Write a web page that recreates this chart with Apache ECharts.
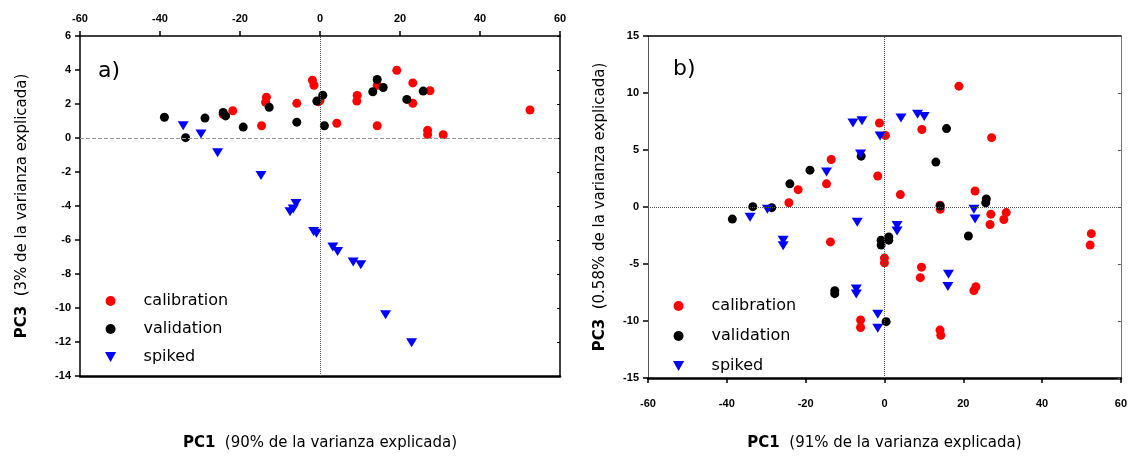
<!DOCTYPE html>
<html><head><meta charset="utf-8">
<script src="https://cdn.jsdelivr.net/npm/echarts@6/dist/echarts.min.js"></script>
<style>html,body{margin:0;background:#fff}#c{width:1130px;height:456px}</style>
</head><body><div id="c"></div>
<script>
// ---- data (PC1, PC3) ----
const seriesNames = ['calibration', 'validation', 'spiked'];
const calibrationA = [[-24.2,1.4],[-21.8,1.6],[-14.6,0.72],[-13.6,2.1],[-13.4,2.4],[-5.8,2.04],[-1.9,3.4],[-1.5,3.1],[-0.4,2.13],[0,2.2],[4.2,0.87],[9.3,2.5],[9.2,2.17],[14.3,0.72],[14.3,3.1],[19.2,3.98],[23.2,3.24],[23.2,2.04],[27.5,2.78],[26.9,0.45],[26.9,0.2],[30.8,0.19],[52.5,1.65]];
const validationA = [[-38.9,1.22],[-33.6,0.02],[-28.75,1.17],[-24.2,1.5],[-23.6,1.3],[-19.2,0.64],[-12.7,1.81],[-5.8,0.93],[-0.8,2.17],[0.7,2.52],[1.1,0.72],[13.2,2.72],[14.3,3.44],[15.8,2.97],[21.7,2.27],[25.8,2.76]];
const spikedA = [[-34.2,0.72],[-29.75,0.23],[-25.6,-0.87],[-14.75,-2.2],[-7.5,-4.34],[-6.7,-4.18],[-6.0,-3.85],[-1.6,-5.5],[-0.9,-5.6],[3.2,-6.41],[4.4,-6.67],[8.3,-7.29],[10.2,-7.45],[16.4,-10.4],[22.9,-12.05]];
const calibrationB = [[-24.25,0.37],[-21.9,1.52],[-14.7,2.03],[-13.5,4.17],[-1.7,2.72],[-1.26,7.37],[0.25,6.28],[-13.7,-3.06],[4.04,1.09],[9.5,6.8],[14.1,0.15],[14.15,-0.2],[18.9,10.6],[23,1.4],[27,-0.63],[26.8,-1.54],[27.2,6.08],[30.9,-0.49],[30.3,-1.1],[52.5,-2.34],[52.2,-3.34],[0,-4.48],[0,-4.9],[-6.06,-9.91],[-6.06,-10.57],[9.4,-5.28],[9.1,-6.2],[23.2,-7.0],[22.7,-7.34],[14.1,-10.8],[14.3,-11.25]];
const validationB = [[-38.6,-1.06],[-33.4,0.03],[-28.6,-0.06],[-24,2.03],[-18.9,3.23],[-5.9,4.46],[-0.84,-2.91],[-0.84,-3.34],[1.1,-2.63],[1.1,-2.91],[14.15,0.09],[13.05,3.94],[15.75,6.88],[25.85,0.71],[25.7,0.37],[21.3,-2.54],[0.42,-10.06],[-12.6,-7.34],[-12.6,-7.6]];
const spikedB = [[-34.1,-0.91],[-29.7,-0.2],[-25.7,-2.91],[-25.7,-3.4],[-14.7,3.08],[-8.0,7.37],[-5.7,7.57],[-6.06,4.65],[-6.9,-1.34],[-1.1,6.23],[4.2,7.8],[8.4,8.14],[10.1,7.94],[3.2,-1.63],[3.2,-2.11],[22.7,-0.2],[23,-1.06],[-7.15,-7.2],[-7.15,-7.63],[-1.7,-9.4],[-1.7,-10.63],[16.25,-5.9],[16.1,-6.97]];
const axisTitleX_A = 'PC1';
const axisTitleX_A2 = '  (90% de la varianza explicada)';
const axisTitleY_A = 'PC3';
const axisTitleY_A2 = '  (3% de la varianza explicada)';
const axisTitleX_B2 = '  (91% de la varianza explicada)';
const axisTitleY_B2 = '  (0.58% de la varianza explicada)';

const FONT = 'DejaVu Sans';
const tri = 'path://M0,0L10,0L5,9Z';
const colors = {calibration: '#ff0000', validation: '#000000', spiked: '#0000ff'};

function tickLabel() { return {show: true, fontFamily: 'Liberation Sans', fontWeight: 'bold', fontSize: 11, color: '#000'}; }
function line(w, c) { return {show: true, onZero: false, lineStyle: {color: c || '#000', width: w}}; }
const nameStyle = {fontFamily: FONT, fontSize: 15, color: '#000', rich: {b: {fontFamily: FONT, fontSize: 15, fontWeight: 'bold', color: '#000'}}};

function scatter(name, data, xi, yi, extra) {
  const s = {
    name, type: 'scatter', xAxisIndex: xi, yAxisIndex: yi, data,
    symbol: name === 'spiked' ? tri : 'circle',
    symbolSize: name === 'spiked' ? [11, 9] : 9,
    itemStyle: {color: colors[name], opacity: 1}, z: 3
  };
  return Object.assign(s, extra || {});
}
function zeroLines(hColor, hType, vColor) {
  return {
    silent: true, symbol: 'none', label: {show: false}, animation: false,
    data: [
      {yAxis: 0, lineStyle: {color: hColor, type: hType, width: 1}},
      {xAxis: 0, lineStyle: {color: vColor, type: 'dotted', width: 1}}
    ]
  };
}

const chart = echarts.init(document.getElementById('c'));
chart.setOption({
  animation: false,
  grid: [
    {left: 80, top: 36, width: 480, height: 342},
    {left: 648, top: 36, width: 475, height: 350}
  ],
  xAxis: [
    {gridIndex: 0, type: 'value', position: 'top', min: -60, max: 60, interval: 20,
     axisLine: line(1.5), axisTick: {show: true, length: 5, lineStyle: {color: '#000', width: 1.5}},
     axisLabel: Object.assign(tickLabel(), {margin: 12}), splitLine: {show: false}},
    {gridIndex: 0, type: 'value', position: 'bottom', min: -60, max: 60, interval: 20,
     axisLine: line(2.5), axisTick: {show: false}, axisLabel: {show: false}, splitLine: {show: false},
     name: '{b|' + axisTitleX_A + '}' + axisTitleX_A2, nameLocation: 'middle', nameGap: 60, nameTextStyle: nameStyle},
    {gridIndex: 1, type: 'value', position: 'bottom', min: -60, max: 60, interval: 20,
     axisLine: line(2.5), axisTick: {show: true, length: 5, lineStyle: {color: '#000', width: 1.5}},
     axisLabel: Object.assign(tickLabel(), {margin: 20}), splitLine: {show: false},
     name: '{b|PC1}' + axisTitleX_B2, nameLocation: 'middle', nameGap: 58, nameTextStyle: nameStyle},
    {gridIndex: 1, type: 'value', position: 'top', min: -60, max: 60, interval: 20,
     axisLine: line(1.5), axisTick: {show: false}, axisLabel: {show: false}, splitLine: {show: false}}
  ],
  yAxis: [
    {gridIndex: 0, type: 'value', position: 'left', min: -14, max: 6, interval: 2,
     axisLine: line(1.5), axisTick: {show: true, length: 5, lineStyle: {color: '#000', width: 1.5}},
     axisLabel: Object.assign(tickLabel(), {margin: 9}), splitLine: {show: false},
     name: '{b|' + axisTitleY_A + '}' + axisTitleY_A2, nameLocation: 'middle', nameGap: 50, nameTextStyle: nameStyle},
    {gridIndex: 0, type: 'value', position: 'right', min: -14, max: 6, interval: 2,
     axisLine: line(1.5), axisTick: {show: true, inside: true, length: 3, lineStyle: {color: '#000'}},
     axisLabel: {show: false}, splitLine: {show: false}},
    {gridIndex: 1, type: 'value', position: 'left', min: -15, max: 15, interval: 5,
     axisLine: line(1, '#555'), axisTick: {show: true, length: 5, lineStyle: {color: '#000', width: 1.5}},
     axisLabel: Object.assign(tickLabel(), {margin: 9}), splitLine: {show: false},
     name: '{b|PC3}' + axisTitleY_B2, nameLocation: 'middle', nameGap: 40, nameTextStyle: nameStyle},
    {gridIndex: 1, type: 'value', position: 'right', min: -15, max: 15, interval: 5,
     axisLine: line(1, '#777'), axisTick: {show: true, inside: true, length: 3, lineStyle: {color: '#555'}},
     axisLabel: {show: false}, splitLine: {show: false}}
  ],
  legend: [
    {left: 100, top: 288, orient: 'vertical', itemGap: 12, itemWidth: 40, itemHeight: 10,
     textStyle: {fontFamily: FONT, fontSize: 16, color: '#000', padding: [0, 0, 0, 8]},
     data: [{name: 'calibration', icon: 'circle'}, {name: 'validation', icon: 'circle'}, {name: 'spiked', icon: tri}]},
    {left: 668, top: 293, orient: 'vertical', itemGap: 14, itemWidth: 40, itemHeight: 10,
     textStyle: {fontFamily: FONT, fontSize: 16, color: '#000', padding: [0, 0, 0, 8]},
     data: [{name: 'calibration', icon: 'circle'}, {name: 'validation', icon: 'circle'}, {name: 'spiked', icon: tri}]}
  ],
  graphic: [
    {type: 'text', left: 98, top: 60, style: {text: 'a)', fontFamily: FONT, fontSize: 22, fill: '#000'}},
    {type: 'text', left: 673, top: 58, style: {text: 'b)', fontFamily: FONT, fontSize: 22, fill: '#000'}}
  ],
  series: [
    scatter('calibration', calibrationA, 0, 0, {markLine: zeroLines('#999', 'dashed', '#555')}),
    scatter('validation', validationA, 0, 0),
    scatter('spiked', spikedA, 0, 0),
    scatter('calibration', calibrationB, 2, 2, {markLine: zeroLines('#555', 'dotted', '#555')}),
    scatter('validation', validationB, 2, 2),
    scatter('spiked', spikedB, 2, 2)
  ]
});
</script></body></html>
